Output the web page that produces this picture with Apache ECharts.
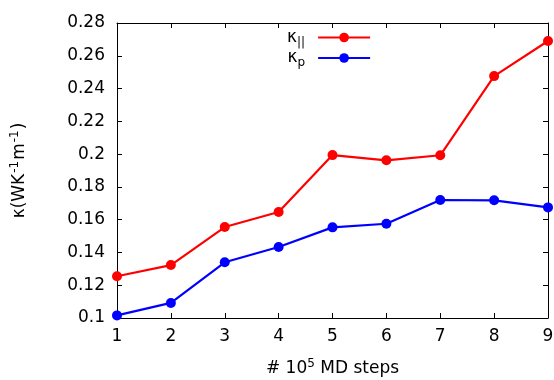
<!DOCTYPE html>
<html><head><meta charset="utf-8">
<script src="https://cdn.jsdelivr.net/npm/echarts@6/dist/echarts.min.js"></script>
<style>html,body{margin:0;padding:0;background:#fff}#c{width:554px;height:380px}</style>
</head><body><div id="c"></div>
<script>
const steps = [1, 2, 3, 4, 5, 6, 7, 8, 9];
const kappaPar = [0.1255, 0.1323, 0.1555, 0.1647, 0.1994, 0.1962, 0.1993, 0.2476, 0.269];
const kappaPerp = [0.1016, 0.1092, 0.1340, 0.1433, 0.1553, 0.1575, 0.1720, 0.1718, 0.1675];
const yTicks = [0.1, 0.12, 0.14, 0.16, 0.18, 0.2, 0.22, 0.24, 0.26, 0.28];

const font = 'DejaVu Sans, Liberation Sans, sans-serif';
const chart = echarts.init(document.getElementById('c'));
const pair = (xs, ys) => xs.map((x, i) => [x, ys[i]]);
const tickStyle = {show: true, inside: true, length: 5, lineStyle: {color: '#000', width: 1}};
chart.setOption({
  animation: false,
  grid: {left: 117, right: 6, top: 23, bottom: 62, containLabel: false, outerBoundsMode: 'none'},
  legend: {
    top: 24, left: 282, orient: 'vertical', align: 'right',
    itemWidth: 52, itemHeight: 12, itemGap: 1,
    data: ['par', 'perp'],
    formatter: n => n === 'par' ? '{k|κ}{s|||}' : '{k|κ}{s|p}',
    textStyle: {
      fontFamily: font, color: '#000',
      rich: {
        k: {fontSize: 17, fontFamily: font, color: '#000'},
        s: {fontSize: 12, fontFamily: font, color: '#000', padding: [10, 8, 0, 0]}
      }
    }
  },
  xAxis: [{
    type: 'value', min: 1, max: 9, interval: 1,
    name: '{t|# 10}{sup|5}{t| MD steps}', nameLocation: 'middle', nameGap: 40,
    nameTextStyle: {rich: {
      t: {fontSize: 17, fontFamily: font, color: '#000'},
      sup: {fontSize: 12, fontFamily: font, color: '#000', padding: [0, 0, 10, 0]}
    }},
    axisLine: {show: true, lineStyle: {color: '#000', width: 1}},
    axisTick: tickStyle, splitLine: {show: false},
    axisLabel: {fontSize: 17, fontFamily: font, color: '#000', margin: 10}
  }, {
    type: 'value', min: 1, max: 9, interval: 1, position: 'top',
    axisLine: {show: true, lineStyle: {color: '#000', width: 1}},
    axisTick: tickStyle, axisLabel: {show: false}, splitLine: {show: false}
  }],
  yAxis: [{
    type: 'value', min: 0.1, max: 0.28, interval: 0.02,
    name: '{t|κ(WK}{sup|-1}{t|m}{sup|-1}{t|)}', nameLocation: 'middle', nameGap: 86, nameRotate: 90,
    nameTextStyle: {rich: {
      t: {fontSize: 17, fontFamily: font, color: '#000'},
      sup: {fontSize: 12, fontFamily: font, color: '#000', padding: [0, 1, 10, 1]}
    }},
    axisLine: {show: true, lineStyle: {color: '#000', width: 1}},
    axisTick: tickStyle, splitLine: {show: false},
    axisLabel: {fontSize: 17, fontFamily: font, color: '#000', margin: 12,
      formatter: v => String(parseFloat(v.toFixed(2)))}
  }, {
    type: 'value', min: 0.1, max: 0.28, interval: 0.02, position: 'right',
    axisLine: {show: true, lineStyle: {color: '#000', width: 1}},
    axisTick: tickStyle, axisLabel: {show: false}, splitLine: {show: false}
  }],
  series: [{
    name: 'par', type: 'line', data: pair(steps, kappaPar),
    color: '#ff0000', lineStyle: {width: 2.2}, symbol: 'circle', symbolSize: 10
  }, {
    name: 'perp', type: 'line', data: pair(steps, kappaPerp),
    color: '#0000ff', lineStyle: {width: 2.2}, symbol: 'circle', symbolSize: 10
  }]
});
</script></body></html>
